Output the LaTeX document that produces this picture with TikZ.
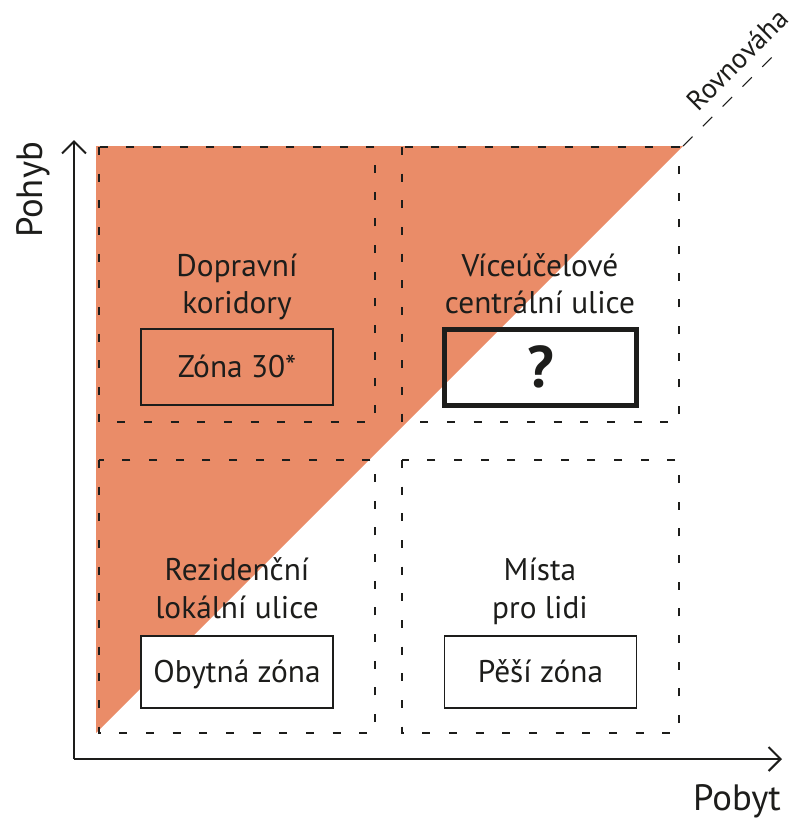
\documentclass[tikz,border=0pt]{standalone}
\usepackage{fontspec}
\setmainfont{PT Sans}
\usetikzlibrary{arrows.meta}
\definecolor{zoneorange}{RGB}{234,140,104}
\definecolor{ink}{RGB}{29,29,27}
\begin{document}
\begin{tikzpicture}[x=0.75pt,y=-0.75pt,
  every node/.style={text=ink, inner sep=0pt},
  lbl/.style={font=\fontsize{23.5}{28}\selectfont, anchor=base},
  axislbl/.style={font=\fontsize{27.5}{32}\selectfont},
  quadrant/.style={draw=ink, line width=1.1pt, dash pattern=on 6pt off 14pt},
  zonebox/.style={draw=ink, line width=1.1pt, minimum width=144pt, minimum height=56pt,
    font=\fontsize{23.5}{28}\selectfont, text height=16.4pt, text depth=0pt},
  openbox/.style={zonebox, line width=3.75pt},
  axis/.style={draw=ink, line width=1.5pt, -{Straight Barb[length=9pt,width=18pt]}}]
\useasboundingbox (0,0) rectangle (799,819);

% shaded half above the balance line
\fill[zoneorange] (96,146) -- (683,146) -- (96,733) -- cycle;

% four dashed quadrants
\draw[quadrant] (99,147) rectangle (375,422);
\draw[quadrant] (402,147) rectangle (679,422);
\draw[quadrant] (99,460) rectangle (375,733);
\draw[quadrant] (402,460) rectangle (679,733);

% balance line continued beyond the grid
\coordinate (apex) at (683,146);
\coordinate (balend) at (772,57);
\draw[ink, line width=0.8pt, dash pattern=on 10pt off 11pt] (apex) -- (balend);
\node[font=\fontsize{21}{25}\selectfont, rotate=45, anchor=base west] (bal) at (698,113) {Rovnováha};

% axes
\coordinate (origin) at (74,759);
\coordinate (ytip) at (74,140);
\coordinate (xtip) at (782,759);
\draw[axis] (origin) -- (ytip);
\draw[axis] (origin) -- (xtip);
\node[axislbl, rotate=90, text height=19pt, text depth=0pt] (pohyb) at (30,190) {Pohyb};
\node[axislbl, anchor=base] (pobyt) at (737,810) {Pobyt};

% quadrant titles
\node[lbl] (tl1) at (237,276) {Dopravní};
\node[lbl] (tl2) at (237,313) {koridory};
\node[lbl] (tr1) at (540,276) {Víceúčelové};
\node[lbl] (tr2) at (540,313) {centrální ulice};
\node[lbl] (bl1) at (237,580) {Rezidenční};
\node[lbl] (bl2) at (237,618) {lokální ulice};
\node[lbl] (br1) at (540,580) {Místa};
\node[lbl] (br2) at (540,618) {pro lidi};

% street regimes
\node[zonebox, minimum height=57pt] (z30) at (237,367) {Zóna 30*};
\node[openbox, minimum height=57pt, font=\fontsize{44}{48}\bfseries\selectfont, text height=31pt] (unknown) at (540.5,367) {?};
\node[zonebox, fill=white, minimum height=54pt] (obyt) at (237,672) {Obytná zóna};
\node[zonebox, fill=white, minimum height=54pt] (pesi) at (540.5,672) {Pěší zóna};
\end{tikzpicture}
\end{document}
